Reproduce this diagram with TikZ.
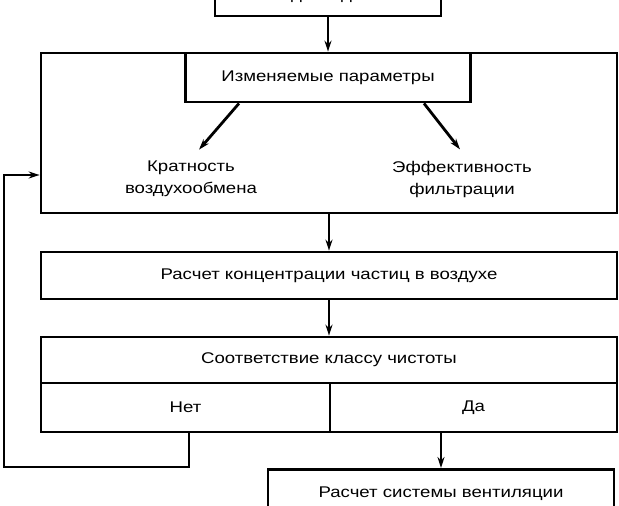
\documentclass[tikz,border=0pt]{standalone}
\usepackage{fontspec}
\setmainfont{Liberation Sans}[FakeStretch=1.2]
\usetikzlibrary{positioning, arrows.meta}

\begin{document}
\begin{tikzpicture}[x=1pt, y=-1pt, line width=2.8pt, >={Stealth[length=11pt, width=7pt]},
    font=\fontsize{15.5}{22}\selectfont,
    box/.style={draw, rectangle, align=center, inner sep=0pt},
    lbl/.style={align=center, inner sep=0pt}]

        \useasboundingbox (0,0) rectangle (619,506);
        \clip (0,0) rectangle (619,506);

        \node (input) [box, minimum width=226, minimum height=40] at (328,-4) {Исходные данные};
        \node (frame) [box, minimum width=576, minimum height=160] at (329,133) {};
        \node (varied) [box, minimum width=285, minimum height=49] at (328,77.5) {Изменяемые параметры};
        \node (ratio) [lbl] at (191,179) {Кратность\\воздухообмена};
        \node (filter) [lbl] at (462,179) {Эффективность\\фильтрации};

        \node (conc) [box, minimum width=576, minimum height=47] at (329,275.5) {Расчет концентрации частиц в воздухе};
        \node (match) [box, minimum width=576, minimum height=46] at (329,360) {Соответствие классу чистоты};
        \node (no) [box, minimum width=289, minimum height=49] at (185.5,407.5) {Нет};
        \node (yes) [box, minimum width=287, minimum height=49] at (473.5,407.5) {Да};
        \node (vent) [box, minimum width=346, minimum height=70, anchor=north] at (441,468) {Расчет системы вентиляции\\и очистки воздуха};

        \coordinate (loop) at (4,467);

        \draw [->] (input.south) -- (input.south |- frame.north);
        \draw [->] ([xshift=-89pt] varied.south) -- ([xshift=8pt, yshift=10pt] ratio.north);
        \draw [->] ([xshift=96pt] varied.south) -- ([xshift=-2pt, yshift=10pt] filter.north);
        \draw [->] (frame.south) -- (conc.north);
        \draw [->] (conc) -- (match);
        \draw [->] (vent.north |- yes.south) -- (vent.north);

        \draw [->] ([xshift=3.5pt] no.south) |- (loop) |- ([yshift=-42pt] frame.west);
    \end{tikzpicture}
\end{document}
